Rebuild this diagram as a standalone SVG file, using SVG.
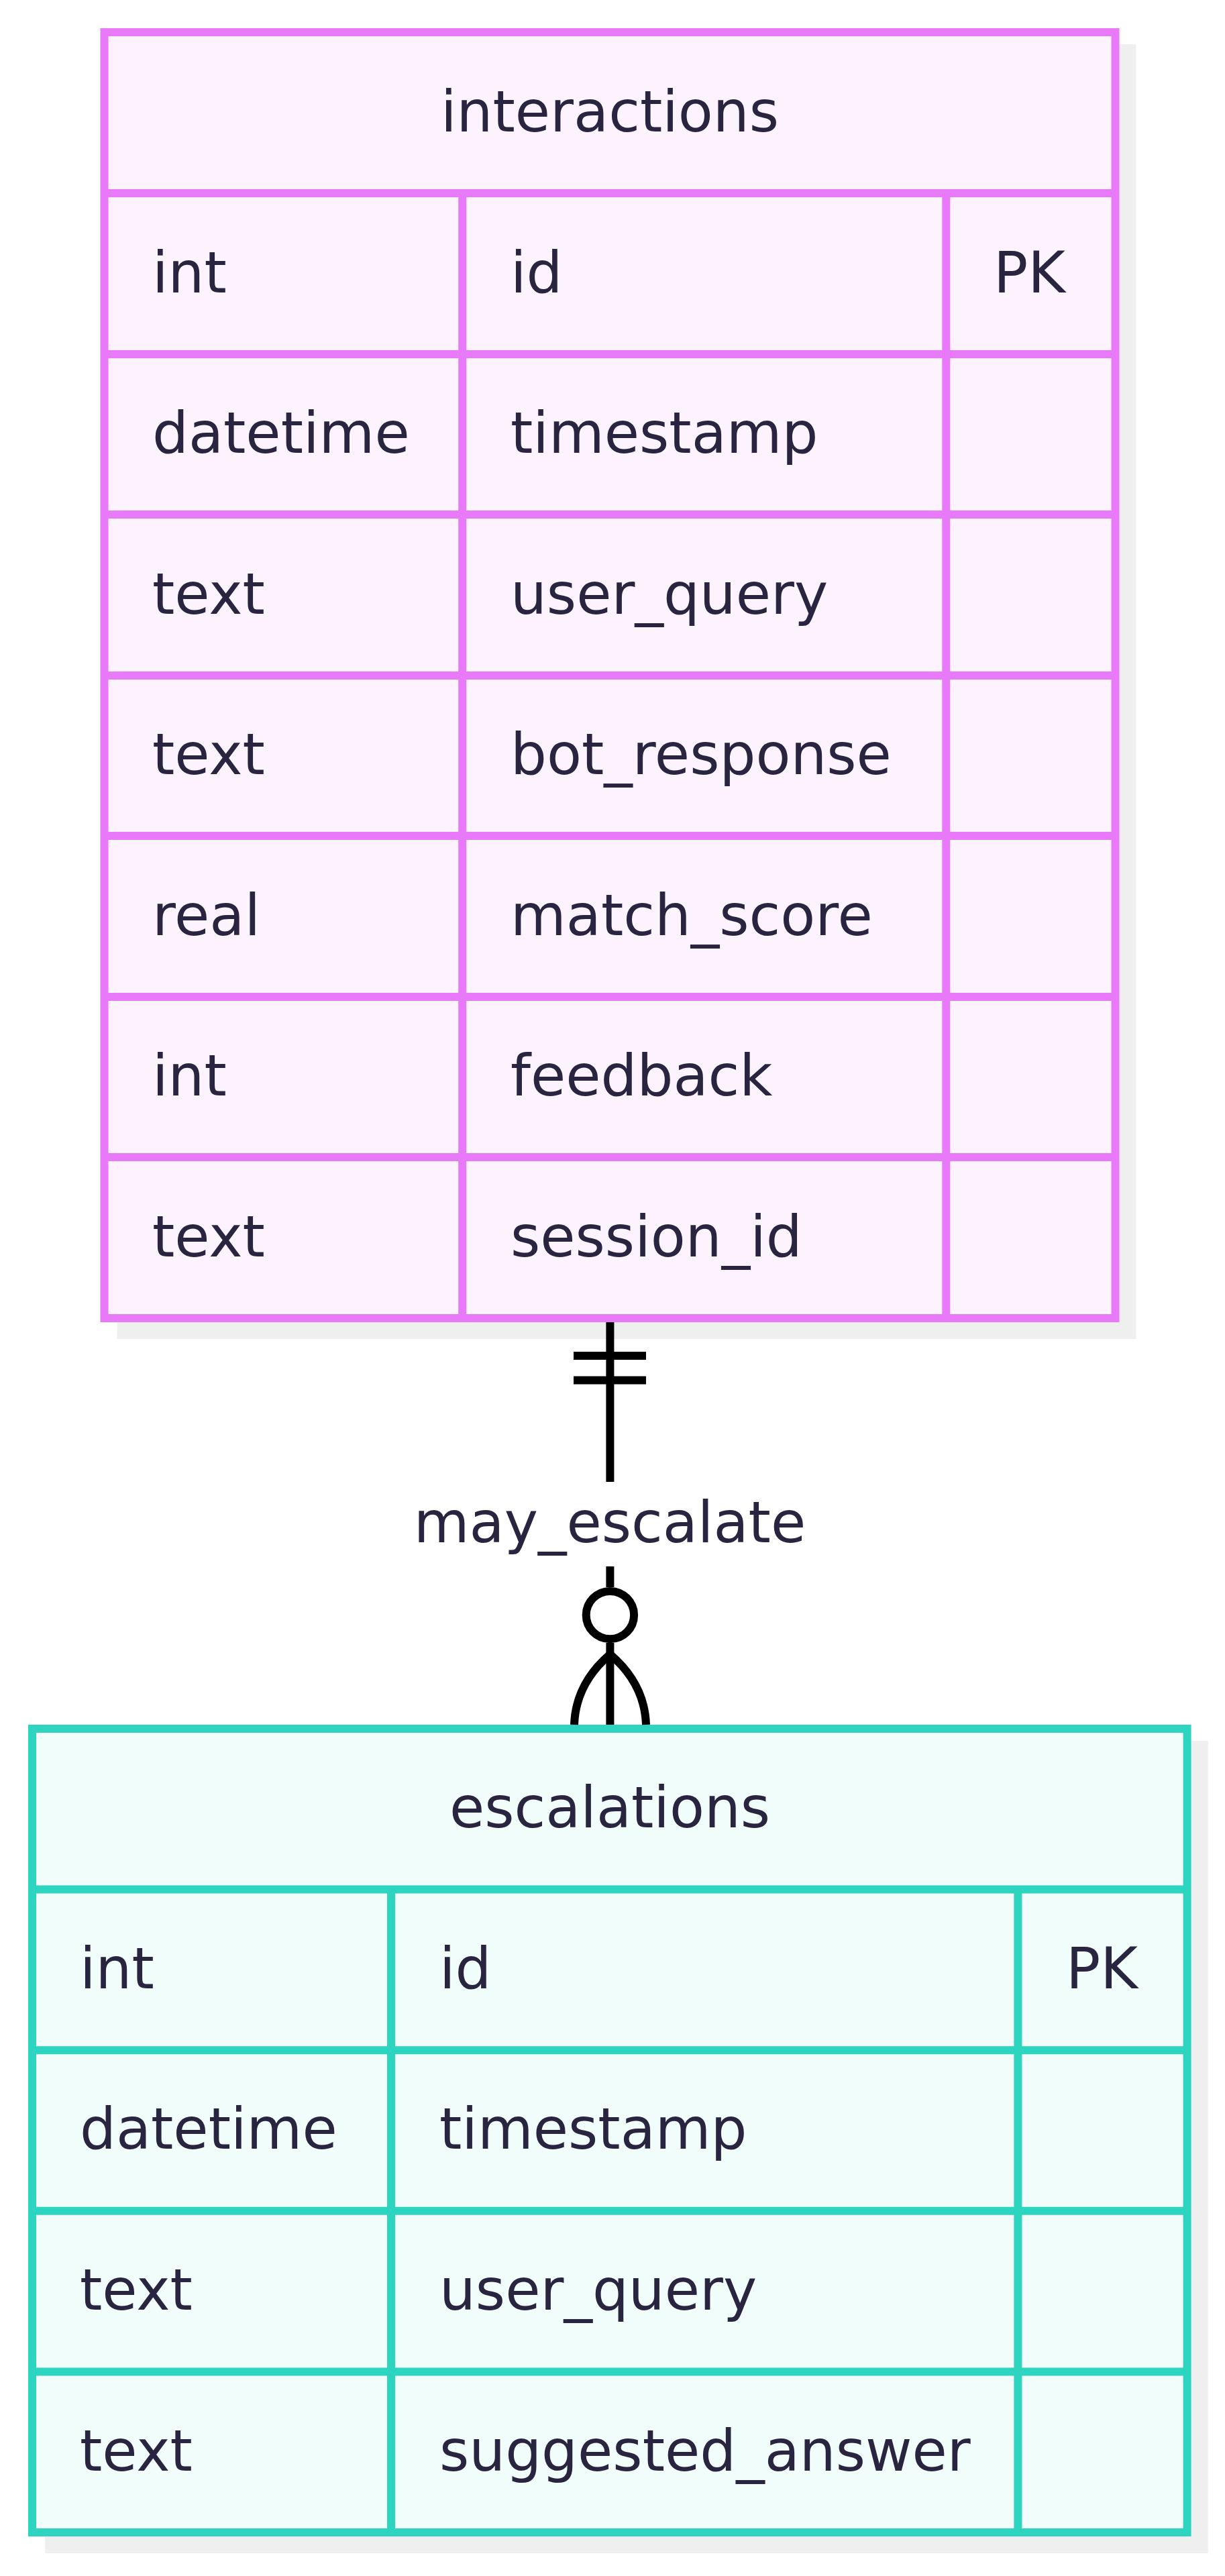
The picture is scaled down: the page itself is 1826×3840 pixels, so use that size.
<svg xmlns="http://www.w3.org/2000/svg" width="1826" height="3840" viewBox="0 0 1826 3840">
<style>
.bg{fill:#ffffff}
.shadow{fill:#efefef}
.t1 .box{fill:#fdf3fe;stroke:#e879f9;stroke-width:12}
.t1 .ln{stroke:#e879f9;stroke-width:12}
.t2 .box{fill:#f0fdfa;stroke:#2dd4bf;stroke-width:12}
.t2 .ln{stroke:#2dd4bf;stroke-width:12}
text{font-family:"DejaVu Sans","Liberation Sans",sans-serif;font-size:85px;fill:#29243f}
.hd{text-anchor:middle}
.conn{stroke:#000;stroke-width:12;fill:none}
</style>
<rect class="bg" x="0" y="0" width="1826" height="3840"/>
<g id="interactions" class="t1">
<rect class="shadow" x="174.5" y="66" width="1519" height="1930"/>
<rect class="box" x="155.5" y="48" width="1507" height="1917"/>
<path class="ln" d="M155.5,288H1662.4M155.5,528H1662.4M155.5,767H1662.4M155.5,1007H1662.4M155.5,1246H1662.4M155.5,1486H1662.4M155.5,1725H1662.4M689.2,288V1965M1410.3,288V1965"/>
<text class="hd" x="909" y="195.5">interactions</text>
<text x="227" y="435.5">int</text><text x="761" y="435.5">id</text><text x="1481" y="435.5">PK</text>
<text x="227" y="675">datetime</text><text x="761" y="675">timestamp</text>
<text x="227" y="915">text</text><text x="761" y="915">user_query</text>
<text x="227" y="1154">text</text><text x="761" y="1154">bot_response</text>
<text x="227" y="1394">real</text><text x="761" y="1394">match_score</text>
<text x="227" y="1633">int</text><text x="761" y="1633">feedback</text>
<text x="227" y="1873">text</text><text x="761" y="1873">session_id</text>
</g>
<g id="escalations" class="t2">
<rect class="shadow" x="67" y="2595" width="1733.6" height="1211"/>
<rect class="box" x="48" y="2577" width="1721.6" height="1198"/>
<path class="ln" d="M48,2816.6H1769.6M48,3056.2H1769.6M48,3295.8H1769.6M48,3535.4H1769.6M583,2816.6V3775M1517.4,2816.6V3775"/>
<text class="hd" x="909" y="2724">escalations</text>
<text x="119" y="2963.5">int</text><text x="655" y="2963.5">id</text><text x="1589" y="2963.5">PK</text>
<text x="119" y="3203">datetime</text><text x="655" y="3203">timestamp</text>
<text x="119" y="3443">text</text><text x="655" y="3443">user_query</text>
<text x="119" y="3683">text</text><text x="655" y="3683">suggested_answer</text>
</g>
<g id="connectors">
<path class="conn" d="M909.4,1971V2209M909.4,2335V2366M909.4,2449V2571"/>
<path class="conn" d="M855,2021H963M855,2057.4H963"/>
<circle class="conn" cx="909.4" cy="2407.6" r="35.7" fill="#ffffff"/>
<path class="conn" d="M909.4,2466Q858,2510 856,2571M909.4,2466Q961,2510 963,2571"/>
<text class="hd" x="909" y="2299">may_escalate</text>
</g>
</svg>
